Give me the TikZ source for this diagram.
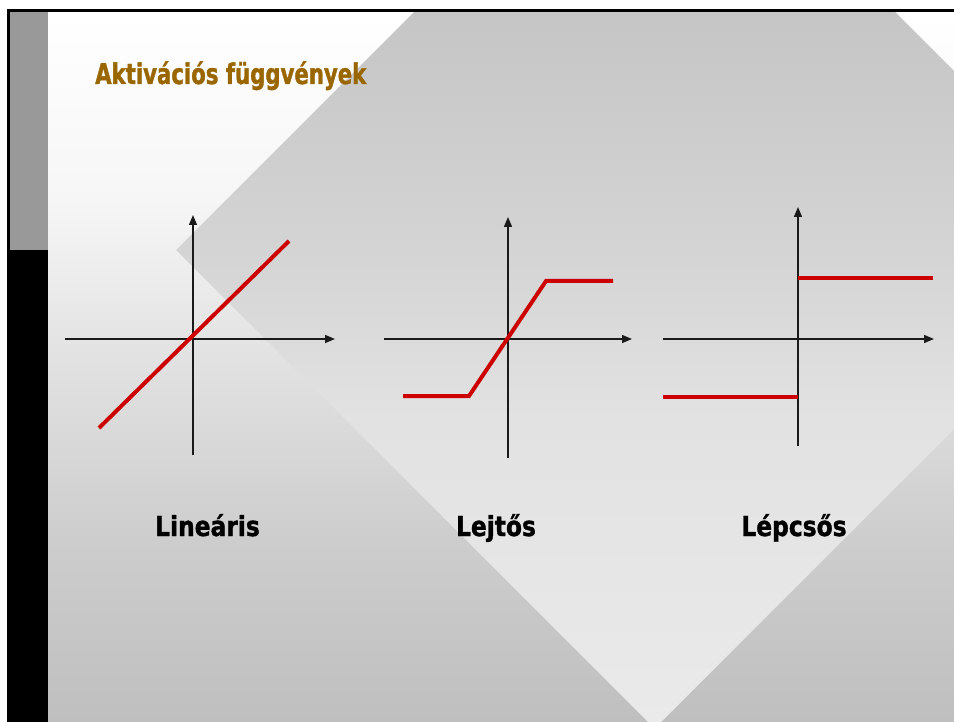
\documentclass[tikz,border=0pt]{standalone}
\usepackage{fontspec}
\usetikzlibrary{arrows.meta}
\newfontfamily\titlefont[FakeStretch=0.745,FakeBold=1.2]{DejaVu Sans Bold}
\newfontfamily\labelfont[FakeStretch=0.85,FakeBold=1.2]{DejaVu Sans Bold}
\definecolor{titlebrown}{HTML}{996600}
\definecolor{redline}{HTML}{CC0000}
\definecolor{bargray}{HTML}{999999}
\definecolor{axisgray}{HTML}{1A1A1A}
% background: maps y=12 -> 75bp, y=722 -> 25bp
\pgfdeclareverticalshading{bgshade}{100bp}{%
  rgb(0bp)=(0.749,0.749,0.749);
  rgb(25bp)=(0.749,0.749,0.749);
  rgb(37.8bp)=(0.804,0.804,0.804);
  rgb(51.9bp)=(0.894,0.894,0.894);
  rgb(61.8bp)=(0.965,0.965,0.965);
  rgb(75bp)=(1,1,1);
  rgb(100bp)=(1,1,1)}
% diamond: maps y=-227 -> 75bp, y=730 -> 25bp
\pgfdeclareverticalshading{diashade}{100bp}{%
  rgb(0bp)=(0.918,0.918,0.918);
  rgb(25bp)=(0.918,0.918,0.918);
  rgb(41.2bp)=(0.886,0.886,0.886);
  rgb(50.1bp)=(0.831,0.831,0.831);
  rgb(62.5bp)=(0.773,0.773,0.773);
  rgb(75bp)=(0.714,0.714,0.714);
  rgb(100bp)=(0.714,0.714,0.714)}
\tikzset{
  axis/.style={draw=axisgray, line width=1.4pt, -{Triangle[length=10pt,width=8pt]}},
  curve/.style={draw=redline, line width=4pt, line cap=butt, line join=miter},
  title/.style={inner sep=0pt, anchor=base west, text=titlebrown, font=\titlefont\fontsize{28.5}{30}\selectfont},
  caption/.style={inner sep=0pt, anchor=base, text=black, font=\labelfont\fontsize{27.5}{30}\selectfont}
}
\begin{document}
\begin{tikzpicture}[x=1pt,y=-1pt]
\useasboundingbox (0,0) rectangle (954,722);
\fill[white] (0,0) rectangle (954,722);
% slide background
\shade[shading=bgshade] (10,12) rectangle (954,722);
\begin{scope}
  \clip (10,12) rectangle (954,722);
  \shade[shading=diashade] (176,250) -- (654.5,-228.5) -- (1133,250) -- (654.5,728.5) -- cycle;
\end{scope}
% left bar and frame
\fill[bargray] (10,12) rectangle (48,250);
\fill[black] (7.3,250) rectangle (48,722);
\fill[black] (7.3,9.5) rectangle (954,12);
\fill[black] (7.3,9.5) rectangle (10,250);
% title
\node[title] (title) at (95,84) {Aktivációs függvények};
% graph 1: linear
\coordinate (a1l) at (65,339);
\coordinate (a1r) at (335,339);
\coordinate (a1b) at (193,455);
\coordinate (a1t) at (193,215);
\draw[axis] (a1l) -- (a1r);
\draw[axis] (a1b) -- (a1t);
\coordinate (l1s) at (99,428);
\coordinate (l1e) at (289,241);
\draw[curve] (l1s) -- (l1e);
\node[caption] (cap1) at (207.5,536) {Lineáris};
% graph 2: ramp
\coordinate (a2l) at (384,339);
\coordinate (a2r) at (632,339);
\coordinate (a2b) at (508,458);
\coordinate (a2t) at (508,217);
\draw[axis] (a2l) -- (a2r);
\draw[axis] (a2b) -- (a2t);
\coordinate (r1) at (403,396);
\coordinate (r2) at (469,396);
\coordinate (r3) at (546,281);
\coordinate (r4) at (613,281);
\draw[curve] (r1) -- (r2) -- (r3) -- (r4);
\node[caption] (cap2) at (496,536) {Lejtős};
% graph 3: step
\coordinate (a3l) at (663,339);
\coordinate (a3r) at (934,339);
\coordinate (a3b) at (798,446);
\coordinate (a3t) at (798,207);
\draw[axis] (a3l) -- (a3r);
\draw[axis] (a3b) -- (a3t);
\coordinate (s1) at (798,278);
\coordinate (s2) at (933,278);
\coordinate (s3) at (663,397);
\coordinate (s4) at (798,397);
\draw[curve] (s1) -- (s2);
\draw[curve] (s3) -- (s4);
\node[caption] (cap3) at (794,536) {Lépcsős};
\end{tikzpicture}
\end{document}
